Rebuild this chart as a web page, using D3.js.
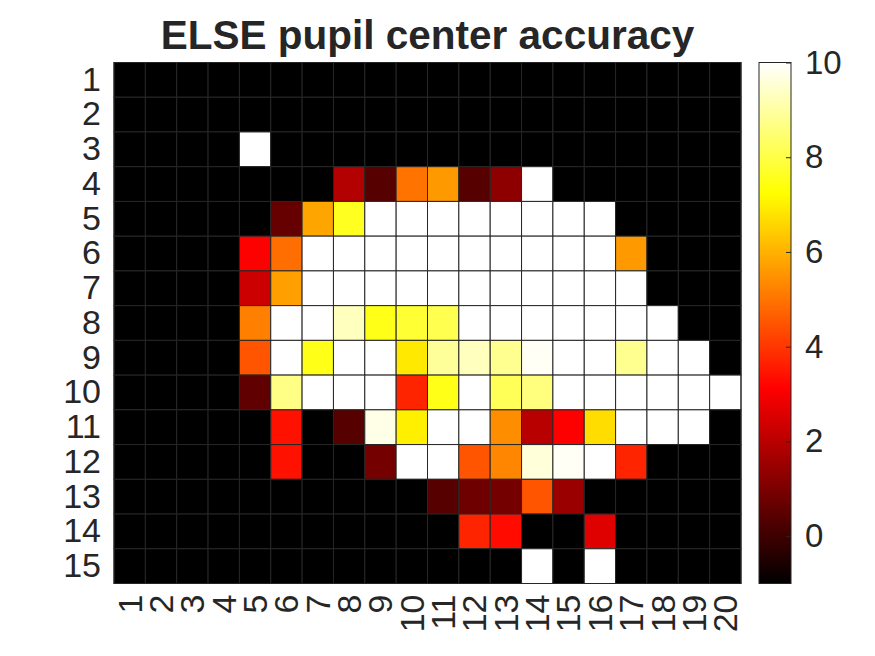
<!DOCTYPE html>
<html><head><meta charset="utf-8">
<script src="https://cdn.jsdelivr.net/npm/d3@7"></script>
<style>html,body{margin:0;padding:0;background:#fff;}svg{display:block;font-family:"Liberation Sans",Arial,Helvetica,sans-serif;}</style>
</head><body>
<svg id="chart" width="875" height="656"></svg>
<script>
const titleText = "ELSE pupil center accuracy";
const rowLabels = d3.range(1, 16).map(String);
const colLabels = d3.range(1, 21).map(String);
const colorTicks = [0, 2, 4, 6, 8, 10];
const colorDomain = [-1, 10];

const row1  = [-1,-1,-1,-1,-1,-1,-1,-1,-1,-1,-1,-1,-1,-1,-1,-1,-1,-1,-1,-1];
const row2  = [-1,-1,-1,-1,-1,-1,-1,-1,-1,-1,-1,-1,-1,-1,-1,-1,-1,-1,-1,-1];
const row3  = [-1,-1,-1,-1,10,-1,-1,-1,-1,-1,-1,-1,-1,-1,-1,-1,-1,-1,-1,-1];
const row4  = [-1,-1,-1,-1,-1,-1,-1,1.9,0.4,5.0,5.6,0.4,1.3,10,-1,-1,-1,-1,-1,-1];
const row5  = [-1,-1,-1,-1,-1,0.65,5.8,7.6,10,10,10,10,10,10,10,10,-1,-1,-1,-1];
const row6  = [-1,-1,-1,-1,3.1,4.9,10,10,10,10,10,10,10,10,10,10,5.6,-1,-1,-1];
const row7  = [-1,-1,-1,-1,2.3,5.7,10,10,10,10,10,10,10,10,10,10,10,-1,-1,-1];
const row8  = [-1,-1,-1,-1,5.2,10,10,9.3,7.5,7.8,8.1,10,10,10,10,10,10,10,-1,-1];
const row9  = [-1,-1,-1,-1,4.5,10,7.5,10,10,6.9,8.9,9.3,8.8,9.9,10,10,8.8,10,10,-1];
const row10 = [-1,-1,-1,-1,0.55,8.7,10,10,10,3.7,7.5,10,8.2,8.6,10,10,10,10,10,10];
const row11 = [-1,-1,-1,-1,-1,3.4,-1,0.4,9.75,7.0,10,10,5.4,2.0,3.1,6.7,10,10,10,-1];
const row12 = [-1,-1,-1,-1,-1,3.4,-1,-1,0.9,10,10,4.5,5.3,9.6,9.9,10,3.7,-1,-1,-1];
const row13 = [-1,-1,-1,-1,-1,-1,-1,-1,-1,-1,0.4,0.8,0.9,4.5,1.5,-1,-1,-1,-1,-1];
const row14 = [-1,-1,-1,-1,-1,-1,-1,-1,-1,-1,-1,3.7,3.3,-1,-1,2.6,-1,-1,-1,-1];
const row15 = [-1,-1,-1,-1,-1,-1,-1,-1,-1,-1,-1,-1,-1,10,-1,10,-1,-1,-1,-1];
const rows = [row1,row2,row3,row4,row5,row6,row7,row8,row9,row10,row11,row12,row13,row14,row15];

// MATLAB "hot" colormap
function hot(t) {
  t = Math.max(0, Math.min(1, t));
  const r = Math.min(1, t / 0.375);
  const g = Math.max(0, Math.min(1, (t - 0.375) / 0.375));
  const b = Math.max(0, Math.min(1, (t - 0.75) / 0.25));
  return d3.rgb(r * 255, g * 255, b * 255).formatHex();
}
const tScale = d3.scaleLinear().domain(colorDomain).range([0, 1]).clamp(true);
const color = v => hot(tScale(v));

const svg = d3.select("#chart");
const ink = "#262626";
const fs = 34;
const plot = {left: 114, right: 741, top: 62.5, bottom: 583.5};

const x = d3.scaleBand().domain(colLabels).range([plot.left, plot.right]).padding(0);
const y = d3.scaleBand().domain(rowLabels).range([plot.top, plot.bottom]).padding(0);

const cells = [];
rows.forEach((r, i) => r.forEach((v, j) => cells.push({row: rowLabels[i], col: colLabels[j], v})));

svg.append("g").selectAll("rect").data(cells).join("rect")
  .attr("x", d => x(d.col)).attr("y", d => y(d.row))
  .attr("width", x.bandwidth()).attr("height", y.bandwidth())
  .attr("fill", d => color(d.v))
  .attr("stroke", ink).attr("stroke-width", 1);

svg.append("rect").attr("x", plot.left).attr("y", plot.top)
  .attr("width", plot.right - plot.left).attr("height", plot.bottom - plot.top)
  .attr("fill", "none").attr("stroke", ink).attr("stroke-width", 1);

// Y axis
const yAxis = svg.append("g").attr("transform", `translate(${plot.left},0)`)
  .call(d3.axisLeft(y).tickSize(0).tickPadding(13));
yAxis.select(".domain").remove();
yAxis.selectAll("text").attr("font-size", fs).attr("fill", ink)
  .attr("font-family", '"Liberation Sans",Arial,sans-serif');

// X axis (rotated labels)
const xAxis = svg.append("g").attr("transform", `translate(0,${plot.bottom})`)
  .call(d3.axisBottom(x).tickSize(0));
xAxis.select(".domain").remove();
xAxis.selectAll("text")
  .attr("font-size", fs).attr("fill", ink)
  .attr("font-family", '"Liberation Sans",Arial,sans-serif')
  .attr("text-anchor", "end")
  .attr("transform", "rotate(-90)")
  .attr("x", -11).attr("y", 0).attr("dy", "0.35em");

// Title
svg.append("text").attr("x", (plot.left + plot.right) / 2).attr("y", 49)
  .attr("text-anchor", "middle").attr("font-weight", "bold")
  .attr("font-size", 40.5).attr("fill", ink).text(titleText);

// Colorbar
const cb = {left: 759, width: 32};
const cy = d3.scaleLinear().domain(colorDomain).range([plot.bottom, plot.top]);
const defs = svg.append("defs");
const grad = defs.append("linearGradient").attr("id", "hotgrad")
  .attr("x1", 0).attr("y1", 1).attr("x2", 0).attr("y2", 0);
d3.range(0, 1.0001, 0.0625).forEach(t => grad.append("stop").attr("offset", t).attr("stop-color", hot(t)));
svg.append("rect").attr("x", cb.left).attr("y", plot.top)
  .attr("width", cb.width).attr("height", plot.bottom - plot.top)
  .attr("fill", "url(#hotgrad)").attr("stroke", ink).attr("stroke-width", 1);

const cAxis = svg.append("g").attr("transform", `translate(${cb.left + cb.width},0)`)
  .call(d3.axisRight(cy).tickValues(colorTicks).tickSize(-5).tickPadding(14).tickFormat(d3.format("d")));
cAxis.select(".domain").remove();
cAxis.selectAll("line").attr("stroke", ink);
cAxis.selectAll("text").attr("font-size", 33).attr("fill", ink)
  .attr("font-family", '"Liberation Sans",Arial,sans-serif');
</script>
</body></html>
